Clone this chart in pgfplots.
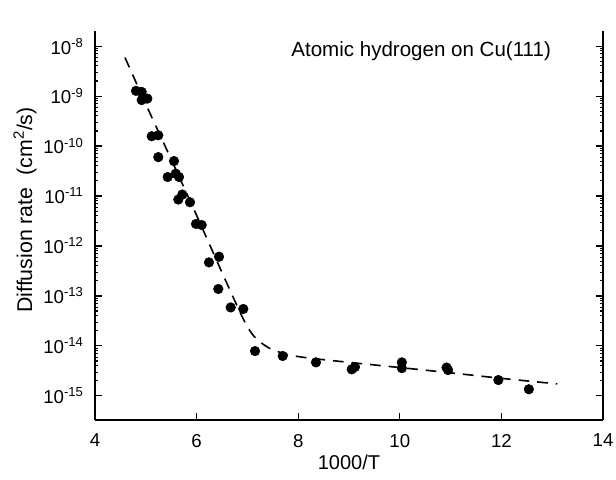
\documentclass[border=0pt]{standalone}
\usepackage{fontspec}
\setmainfont{Liberation Sans}
\usepackage{pgfplots}
\pgfplotsset{compat=1.18}
\begin{document}
\begin{tikzpicture}
\begin{axis}[name=ax,
  scale only axis, width=381pt, height=291.75pt,
  xmin=4, xmax=14, ymode=log, ymin=3.3e-16, ymax=2e-8,
  axis x line*=bottom,
  axis line style={line width=1pt},
  xtick={4,6,8,10,12,14},
  /pgf/number format/assume math mode=true,
  ytick={1e-15,1e-14,1e-13,1e-12,1e-11,1e-10,1e-9,1e-8},
  yticklabels={10\textsuperscript{-15},10\textsuperscript{-14},10\textsuperscript{-13},10\textsuperscript{-12},10\textsuperscript{-11},10\textsuperscript{-10},10\textsuperscript{-9},10\textsuperscript{-8}},
  tick align=inside,
  major tick length=5pt, minor tick length=2.5pt,
  tick style={black, line width=0.8pt},
  tick label style={font=\fontsize{14}{16}\selectfont},
  xticklabel style={yshift=-7pt},
  yticklabel style={xshift=-5pt},
  xlabel={1000/T}, ylabel={Diffusion rate\ \ (cm\textsuperscript{2}/s)},
  xlabel style={font=\fontsize{15}{18}\selectfont, at={(axis description cs:0.5,0)}, yshift=-32pt, anchor=center},
  ylabel style={font=\fontsize{16}{19}\selectfont, at={(axis description cs:0,0.54)}, yshift=52.5pt, anchor=center},
]
\addplot[black, line width=1.2pt, dash pattern=on 8pt off 6pt, smooth, tension=0.5] coordinates {
(4.59,5.9e-9) (5.0,6.9e-10) (5.5,5.4e-11) (6.0,4.1e-12) (6.5,2.95e-13)
(6.9,3.8e-14) (7.1,1.7e-14) (7.3,1.1e-14) (7.5,8.4e-15) (7.8,6.7e-15)
(8.2,5.75e-15) (9.0,4.7e-15) (10.0,3.7e-15) (11.0,2.9e-15) (12.0,2.25e-15) (13.1,1.74e-15)
};
\addplot[only marks, mark=*, mark size=3.6pt, black] coordinates {
(4.807,1.27e-9) (4.919,1.21e-9) (4.919,8.3e-10) (5.030,8.9e-10)
(5.116,1.57e-10) (5.246,1.64e-10) (5.246,6.0e-11) (5.555,5.0e-11)
(5.431,2.4e-11) (5.589,2.8e-11) (5.654,2.4e-11) (5.640,8.5e-12)
(5.719,1.07e-11) (5.870,7.5e-12) (5.988,2.76e-12) (6.100,2.63e-12)
(6.244,4.7e-13) (6.441,6.1e-13) (6.427,1.38e-13) (6.671,5.9e-14)
(6.919,5.5e-14) (7.150,7.9e-15) (7.695,6.3e-15) (8.350,4.7e-15)
(9.053,3.4e-15) (9.118,3.8e-15) (10.04,4.7e-15) (10.04,3.6e-15)
(10.92,3.7e-15) (10.95,3.3e-15) (11.94,2.08e-15) (12.54,1.36e-15)
};
\node[font=\fontsize{15.4}{18}\selectfont, anchor=center] at (axis cs:10.42,7.8e-9) {Atomic hydrogen on Cu(111)};
\end{axis}
\pgfresetboundingbox
\path[use as bounding box] ([xshift=-71.25pt,yshift=-44.25pt]ax.south west) rectangle ([xshift=9.75pt,yshift=23.25pt]ax.north east);
\end{tikzpicture}
\end{document}
